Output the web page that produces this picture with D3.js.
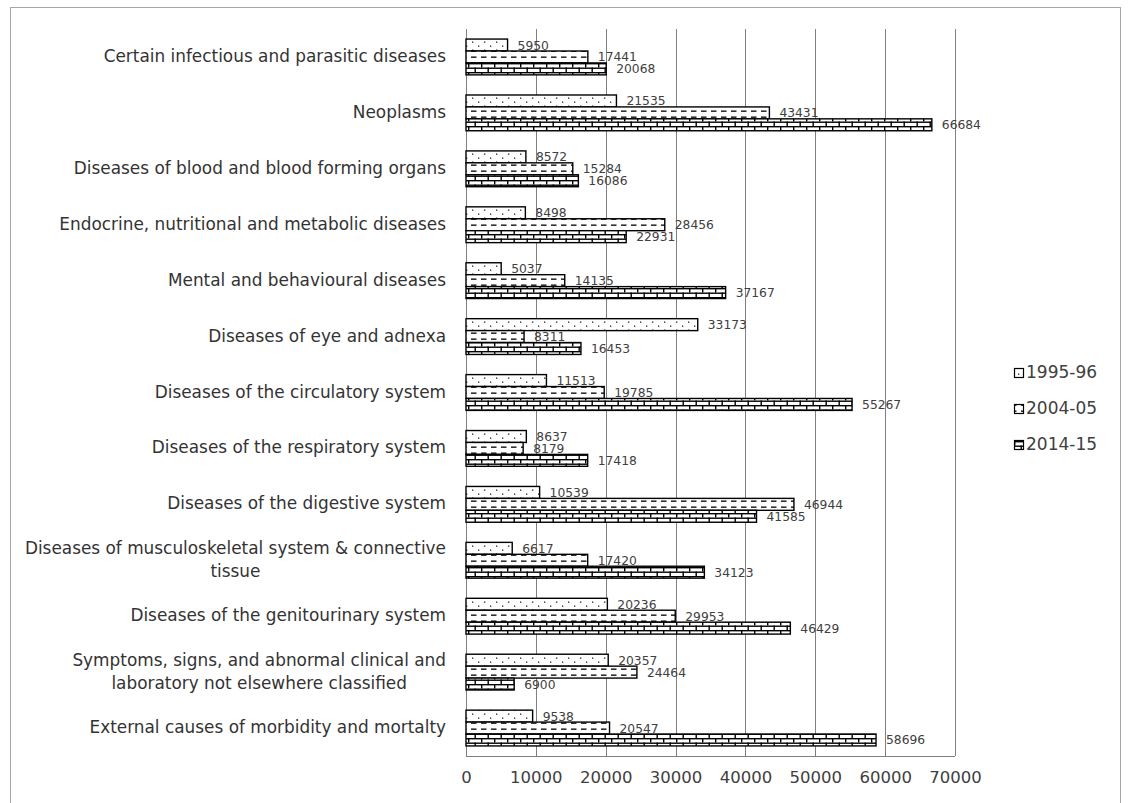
<!DOCTYPE html>
<html><head><meta charset="utf-8">
<script src="https://cdn.jsdelivr.net/npm/d3@7"></script>
<style>body{margin:0;background:#fff}svg{display:block}</style>
</head><body><svg id="c" width="1128" height="803"></svg>
<script>
const categories = [
  ["Certain infectious and parasitic diseases"],
  ["Neoplasms"],
  ["Diseases of blood and blood forming organs"],
  ["Endocrine, nutritional and metabolic diseases"],
  ["Mental and behavioural diseases"],
  ["Diseases of eye and adnexa"],
  ["Diseases of the circulatory system"],
  ["Diseases of the respiratory system"],
  ["Diseases of the digestive system"],
  ["Diseases of musculoskeletal system & connective", "tissue"],
  ["Diseases of the genitourinary system"],
  ["Symptoms, signs, and abnormal clinical and", "laboratory not elsewhere classified"],
  ["External causes of morbidity and mortalty"]
];
const seriesNames = ["1995-96", "2004-05", "2014-15"];
const v1995 = [5950, 21535, 8572, 8498, 5037, 33173, 11513, 8637, 10539, 6617, 20236, 20357, 9538];
const v2004 = [17441, 43431, 15284, 28456, 14135, 8311, 19785, 8179, 46944, 17420, 29953, 24464, 20547];
const v2014 = [20068, 66684, 16086, 22931, 37167, 16453, 55267, 17418, 41585, 34123, 46429, 6900, 58696];
const xTicks = [0, 10000, 20000, 30000, 40000, 50000, 60000, 70000];

const series = [v1995, v2004, v2014];
const patIds = ["pDots", "pDash", "pBrick"];
const svg = d3.select("#c");
const defs = svg.append("defs");

// dotted pattern
const p1 = defs.append("pattern").attr("id", "pDots").attr("patternUnits", "userSpaceOnUse")
  .attr("width", 12).attr("height", 8);
p1.append("rect").attr("width", 12).attr("height", 8).attr("fill", "#fff");
p1.append("rect").attr("x", 4).attr("y", 1.5).attr("width", 1.3).attr("height", 1.3).attr("fill", "#222");
p1.append("rect").attr("x", 10).attr("y", 5.5).attr("width", 1.3).attr("height", 1.3).attr("fill", "#222");
// dashed pattern
const p2 = defs.append("pattern").attr("id", "pDash").attr("patternUnits", "userSpaceOnUse")
  .attr("width", 10).attr("height", 6);
p2.append("rect").attr("width", 10).attr("height", 6).attr("fill", "#fff");
p2.append("rect").attr("x", 1).attr("y", 2.5).attr("width", 5.5).attr("height", 1.3).attr("fill", "#000");
// brick pattern
const p3 = defs.append("pattern").attr("id", "pBrick").attr("patternUnits", "userSpaceOnUse")
  .attr("width", 13).attr("height", 9);
p3.append("rect").attr("width", 13).attr("height", 9).attr("fill", "#fff");
p3.append("rect").attr("x", 0).attr("y", 0).attr("width", 13).attr("height", 1.4).attr("fill", "#000");
p3.append("rect").attr("x", 0).attr("y", 4.5).attr("width", 13).attr("height", 1.4).attr("fill", "#000");
p3.append("rect").attr("x", 0).attr("y", 0).attr("width", 1.4).attr("height", 4.5).attr("fill", "#000");
p3.append("rect").attr("x", 6.5).attr("y", 4.5).attr("width", 1.4).attr("height", 4.5).attr("fill", "#000");

// outer frame
svg.append("rect").attr("x", 10.5).attr("y", 7.5).attr("width", 1110).attr("height", 820)
  .attr("fill", "none").attr("stroke", "#a6a6a6").attr("stroke-width", 1);

const x = d3.scaleLinear().domain([0, 70000]).range([466, 955]);
const y = d3.scaleBand().domain(d3.range(categories.length)).range([29, 756])
  .paddingInner(0.36).paddingOuter(0.18);
const ys = d3.scaleBand().domain(d3.range(3)).range([0, y.bandwidth()]);

// gridlines
svg.append("g").selectAll("line").data(xTicks.slice(1)).join("line")
  .attr("x1", d => Math.round(x(d)) + 0.5).attr("x2", d => Math.round(x(d)) + 0.5)
  .attr("y1", 29).attr("y2", 756).attr("stroke", "#808080").attr("stroke-width", 1);
// bottom axis
const xAxis = svg.append("g").attr("transform", "translate(0,756)")
  .call(d3.axisBottom(x).tickValues(xTicks).tickFormat(d3.format("d")).tickSize(0).tickPadding(15));
xAxis.select(".domain").attr("stroke", "#808080").attr("d", `M466,0.5H${x(70000)}`);
xAxis.selectAll("text").attr("font-family", "DejaVu Sans").attr("font-size", 16.5).attr("fill", "#404040");
// left axis line
svg.append("line").attr("x1", 466.5).attr("x2", 466.5).attr("y1", 29).attr("y2", 756)
  .attr("stroke", "#808080");

// bars
const g = svg.append("g");
series.forEach((vals, si) => {
  g.append("g").selectAll("rect").data(vals).join("rect")
    .attr("x", x(0)).attr("y", (d, i) => y(i) + ys(si))
    .attr("width", d => x(d) - x(0)).attr("height", ys.bandwidth())
    .attr("fill", `url(#${patIds[si]})`).attr("stroke", "#000").attr("stroke-width", 1.4);
  g.append("g").selectAll("text").data(vals).join("text")
    .attr("x", d => x(d) + 10).attr("y", (d, i) => y(i) + ys(si) + ys.bandwidth() / 2 + 1)
    .attr("dominant-baseline", "middle")
    .attr("font-family", "DejaVu Sans").attr("font-size", 12.3).attr("fill", "#404040")
    .text(d => d);
});

// category labels
const lab = svg.append("g");
categories.forEach((lines, i) => {
  const cy = y(i) + y.bandwidth() / 2;
  const t = lab.append("text").attr("font-family", "DejaVu Sans").attr("font-size", 16.9)
    .attr("fill", "#333").attr("text-anchor", "middle");
  const lh = 23;
  lines.forEach((ln, j) => {
    t.append("tspan").attr("x", 0).attr("y", cy + (j - (lines.length - 1) / 2) * lh)
      .attr("dominant-baseline", "middle").text(ln);
  });
  const w = d3.max(t.selectAll("tspan").nodes(), n => n.getComputedTextLength());
  t.selectAll("tspan").attr("x", 446 - w / 2);
});

// legend
const lg = svg.append("g");
seriesNames.forEach((s, i) => {
  const cy = 373 + i * 36;
  lg.append("rect").attr("x", 1014.5).attr("y", cy - 4.5).attr("width", 9).attr("height", 9)
    .attr("fill", `url(#${patIds[i]})`).attr("stroke", "#000").attr("stroke-width", 1.2);
  lg.append("text").attr("x", 1026).attr("y", cy).attr("dominant-baseline", "middle")
    .attr("font-family", "DejaVu Sans").attr("font-size", 17).attr("fill", "#404040").text(s);
});
</script></body></html>
